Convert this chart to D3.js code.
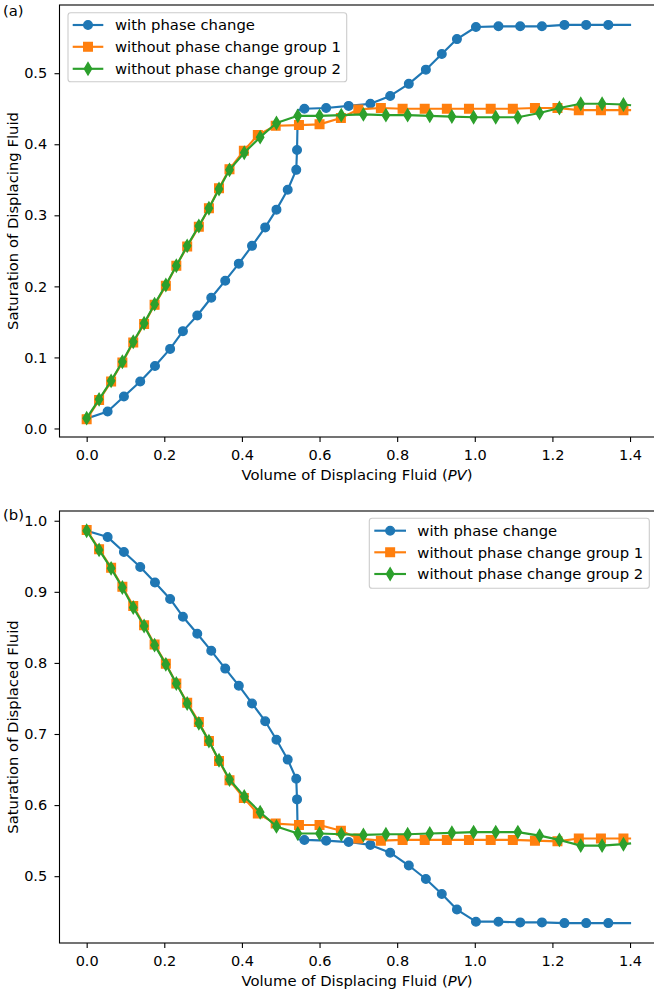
<!DOCTYPE html>
<html>
<head>
<meta charset="utf-8">
<script src="https://cdn.jsdelivr.net/npm/d3@7"></script>
<style>
  html, body { margin: 0; padding: 0; background: #fff; }
  svg { display: block; font-family: "DejaVu Sans", sans-serif; }
</style>
</head>
<body>
<svg id="chart" width="654" height="993"></svg>
<script>
// ---------------- DATA ----------------
const seriesNames = ["with phase change", "without phase change group 1", "without phase change group 2"];
const xTicks = [0.0, 0.2, 0.4, 0.6, 0.8, 1.0, 1.2, 1.4];
const yTicksA = [0.0, 0.1, 0.2, 0.3, 0.4, 0.5];
const yTicksB = [0.5, 0.6, 0.7, 0.8, 0.9, 1.0];

// with phase change (x in PV)
const blueX = [0, 0.054, 0.096, 0.138, 0.176, 0.215, 0.248, 0.285, 0.321, 0.357,
  0.392, 0.426, 0.460, 0.489, 0.518, 0.540, 0.542, 0.544, 0.561, 0.617, 0.675,
  0.731, 0.782, 0.830, 0.874, 0.915, 0.954, 1.003, 1.061, 1.117, 1.173,
  1.231, 1.287, 1.344, 1.4];
const blueA = [0.014, 0.024, 0.045, 0.066, 0.088, 0.112, 0.137, 0.159, 0.184, 0.208,
  0.232, 0.257, 0.283, 0.308, 0.336, 0.364, 0.392, 0.448, 0.450, 0.451, 0.454,
  0.457, 0.468, 0.485, 0.505, 0.527, 0.548, 0.565, 0.566, 0.566, 0.566,
  0.568, 0.568, 0.568, 0.568];
const blueB = [0.986, 0.977, 0.956, 0.935, 0.913, 0.890, 0.865, 0.841, 0.817, 0.792,
  0.768, 0.743, 0.718, 0.692, 0.664, 0.637, 0.608, 0.552, 0.551, 0.550, 0.548,
  0.544, 0.533, 0.515, 0.496, 0.475, 0.453, 0.436, 0.436, 0.435, 0.435,
  0.434, 0.434, 0.434, 0.434];
const blueNoMarker = [0, 17, 34];

// without phase change group 1
const orangeX = [0, 0.032, 0.063, 0.092, 0.120, 0.148, 0.175, 0.204, 0.231, 0.259,
  0.289, 0.315, 0.341, 0.368, 0.405, 0.441, 0.487, 0.547, 0.600, 0.655,
  0.700, 0.758, 0.814, 0.871, 0.928, 0.985, 1.041, 1.098, 1.155, 1.213,
  1.268, 1.325, 1.383, 1.4];
const orangeA = [0.013, 0.040, 0.066, 0.093, 0.121, 0.147, 0.174, 0.201, 0.229, 0.256,
  0.284, 0.310, 0.338, 0.365, 0.391, 0.413, 0.426, 0.427, 0.428, 0.437,
  0.449, 0.451, 0.450, 0.450, 0.450, 0.450, 0.450, 0.450, 0.451, 0.451,
  0.448, 0.448, 0.448, 0.448];
const orangeB = [0.987, 0.960, 0.934, 0.907, 0.880, 0.853, 0.826, 0.799, 0.771, 0.744,
  0.717, 0.690, 0.662, 0.635, 0.610, 0.588, 0.574, 0.572, 0.572, 0.564,
  0.553, 0.550, 0.551, 0.551, 0.551, 0.551, 0.551, 0.551, 0.550, 0.549,
  0.553, 0.553, 0.553, 0.553];
const orangeNoMarker = [33];

// without phase change group 2
const greenX = [0, 0.032, 0.063, 0.092, 0.120, 0.148, 0.175, 0.204, 0.231, 0.259,
  0.289, 0.315, 0.341, 0.368, 0.406, 0.447, 0.489, 0.544, 0.600, 0.656,
  0.713, 0.771, 0.827, 0.884, 0.941, 0.997, 1.054, 1.111, 1.167, 1.218,
  1.273, 1.328, 1.383, 1.4];
const greenA = [0.0145, 0.041, 0.067, 0.094, 0.122, 0.148, 0.175, 0.202, 0.229, 0.257,
  0.285, 0.310, 0.337, 0.364, 0.388, 0.410, 0.430, 0.440, 0.440, 0.441,
  0.442, 0.441, 0.441, 0.440, 0.439, 0.438, 0.438, 0.438, 0.444, 0.451,
  0.457, 0.457, 0.456, 0.455];
const greenB = [0.986, 0.959, 0.933, 0.906, 0.878, 0.852, 0.825, 0.798, 0.771, 0.743,
  0.715, 0.690, 0.663, 0.636, 0.612, 0.590, 0.570, 0.560, 0.560, 0.559,
  0.558, 0.559, 0.559, 0.560, 0.561, 0.562, 0.562, 0.562, 0.557, 0.551,
  0.543, 0.543, 0.545, 0.546];
const greenNoMarker = [33];

// ---------------- STYLE ----------------
const colors = ["#1f77b4", "#ff7f0e", "#2ca02c"];
const markers = ["circle", "square", "thindiamond"];
const FS = 14.8;     // labels / legend
const FST = 14.5;    // tick labels
const LW = 2.15;
const MS = 8.6;      // marker size in px
const MEW = 1.4;     // marker edge width

const svg = d3.select("#chart");

function markerPath(type) {
  const s = MS;
  if (type === "circle") {
    const r = s / 2;
    return `M${r},0A${r},${r} 0 1,1 ${-r},0A${r},${r} 0 1,1 ${r},0Z`;
  }
  if (type === "square") {
    const h = s / 2;
    return `M${-h},${-h}H${h}V${h}H${-h}Z`;
  }
  // thin diamond (matplotlib 'd')
  const hy = s * Math.SQRT1_2, hx = hy * 0.6;
  return `M0,${-hy}L${hx},0L0,${hy}L${-hx},0Z`;
}

function drawPanel(cfg) {
  const x = d3.scaleLinear().domain([-0.07, 1.47]).range([59.5, 657.2]);
  const y = d3.scaleLinear().domain(cfg.yDomain).range([cfg.bottom, cfg.top]);
  const g = svg.append("g");

  // series
  cfg.series.forEach((s, i) => {
    const pts = s.x.map((xv, k) => ({x: xv, y: s.y[k], k}));
    const line = d3.line().x(d => x(d.x)).y(d => y(d.y));
    const sg = g.append("g");
    sg.append("path").attr("d", line(pts)).attr("fill", "none")
      .attr("stroke", colors[i]).attr("stroke-width", LW)
      .attr("stroke-linejoin", "round").attr("stroke-linecap", "square");
    sg.selectAll("path.m").data(pts.filter(p => !s.skip.includes(p.k)))
      .enter().append("path").attr("class", "m")
      .attr("d", markerPath(markers[i]))
      .attr("transform", d => `translate(${x(d.x)},${y(d.y)})`)
      .attr("fill", colors[i]).attr("stroke", colors[i]).attr("stroke-width", MEW)
      .attr("stroke-linejoin", "miter");
  });

  // axes
  const xa = g.append("g").attr("transform", `translate(0,${cfg.bottom})`)
    .call(d3.axisBottom(x).tickValues(xTicks).tickFormat(d3.format(".1f"))
      .tickSize(5).tickPadding(7.3));
  const ya = g.append("g").attr("transform", `translate(59.5,0)`)
    .call(d3.axisLeft(y).tickValues(cfg.yTicks).tickFormat(d3.format(".1f"))
      .tickSize(5).tickPadding(7.3));
  [xa, ya].forEach(a => {
    a.select(".domain").remove();
    a.selectAll(".tick line").attr("stroke", "#000").attr("stroke-width", 1.1);
    a.selectAll(".tick text").attr("fill", "#000")
      .style("font-size", FST + "px").style("font-family", "DejaVu Sans");
  });

  // spines
  g.append("rect").attr("x", 59.5).attr("y", cfg.top)
    .attr("width", 657.2 - 59.5).attr("height", cfg.bottom - cfg.top)
    .attr("fill", "none").attr("stroke", "#000").attr("stroke-width", 1.1);

  // axis labels
  const xl = g.append("text").attr("x", 357).attr("y", cfg.bottom + 43)
    .attr("text-anchor", "middle").style("font-size", FS + "px").attr("fill", "#000");
  xl.append("tspan").text("Volume of Displacing Fluid (");
  xl.append("tspan").attr("font-style", "italic").text("PV");
  xl.append("tspan").text(")");

  g.append("text")
    .attr("transform", `translate(18.3,${(cfg.top + cfg.bottom) / 2}) rotate(-90)`)
    .attr("text-anchor", "middle").style("font-size", FS + "px").attr("fill", "#000")
    .text(cfg.ylabel);

  // panel tag
  g.append("text").attr("x", 3).attr("y", cfg.tagY)
    .style("font-size", FS + "px").attr("fill", "#000").text(cfg.tag);

  // legend
  const L = cfg.legend;
  const lg = g.append("g");
  lg.append("rect").attr("x", L.x0).attr("y", L.y0)
    .attr("width", L.x1 - L.x0).attr("height", L.y1 - L.y0)
    .attr("rx", 2.8).attr("ry", 2.8)
    .attr("fill", "rgba(255,255,255,0.8)").attr("stroke", "#cccccc").attr("stroke-width", 1.1);
  seriesNames.forEach((name, i) => {
    const cy = L.rows[i];
    lg.append("line").attr("x1", L.hx0).attr("x2", L.hx1).attr("y1", cy).attr("y2", cy)
      .attr("stroke", colors[i]).attr("stroke-width", LW);
    lg.append("path").attr("d", markerPath(markers[i]))
      .attr("transform", `translate(${(L.hx0 + L.hx1) / 2},${cy})`)
      .attr("fill", colors[i]).attr("stroke", colors[i]).attr("stroke-width", MEW);
    lg.append("text").attr("x", L.tx).attr("y", cy + 5.3)
      .style("font-size", FS + "px").attr("fill", "#000").text(name);
  });
}

drawPanel({
  top: 5, bottom: 437, yDomain: [-0.012, 0.596], yTicks: yTicksA,
  ylabel: "Saturation of Displacing Fluid", tag: "(a)", tagY: 16,
  series: [
    {x: blueX, y: blueA, skip: blueNoMarker},
    {x: orangeX, y: orangeA, skip: orangeNoMarker},
    {x: greenX, y: greenA, skip: greenNoMarker}
  ],
  legend: {x0: 68, y0: 12.7, x1: 346.7, y1: 81.7, rows: [25, 46.8, 68.8],
           hx0: 72.7, hx1: 103.3, tx: 115}
});

drawPanel({
  top: 511, bottom: 943, yDomain: [0.406, 1.0137], yTicks: yTicksB,
  ylabel: "Saturation of Displaced Fluid", tag: "(b)", tagY: 519.5,
  series: [
    {x: blueX, y: blueB, skip: blueNoMarker},
    {x: orangeX, y: orangeB, skip: orangeNoMarker},
    {x: greenX, y: greenB, skip: greenNoMarker}
  ],
  legend: {x0: 369.3, y0: 518.3, x1: 649.3, y1: 588.3, rows: [530.7, 552.3, 574],
           hx0: 374.3, hx1: 406, tx: 417.3}
});
</script>
</body>
</html>
